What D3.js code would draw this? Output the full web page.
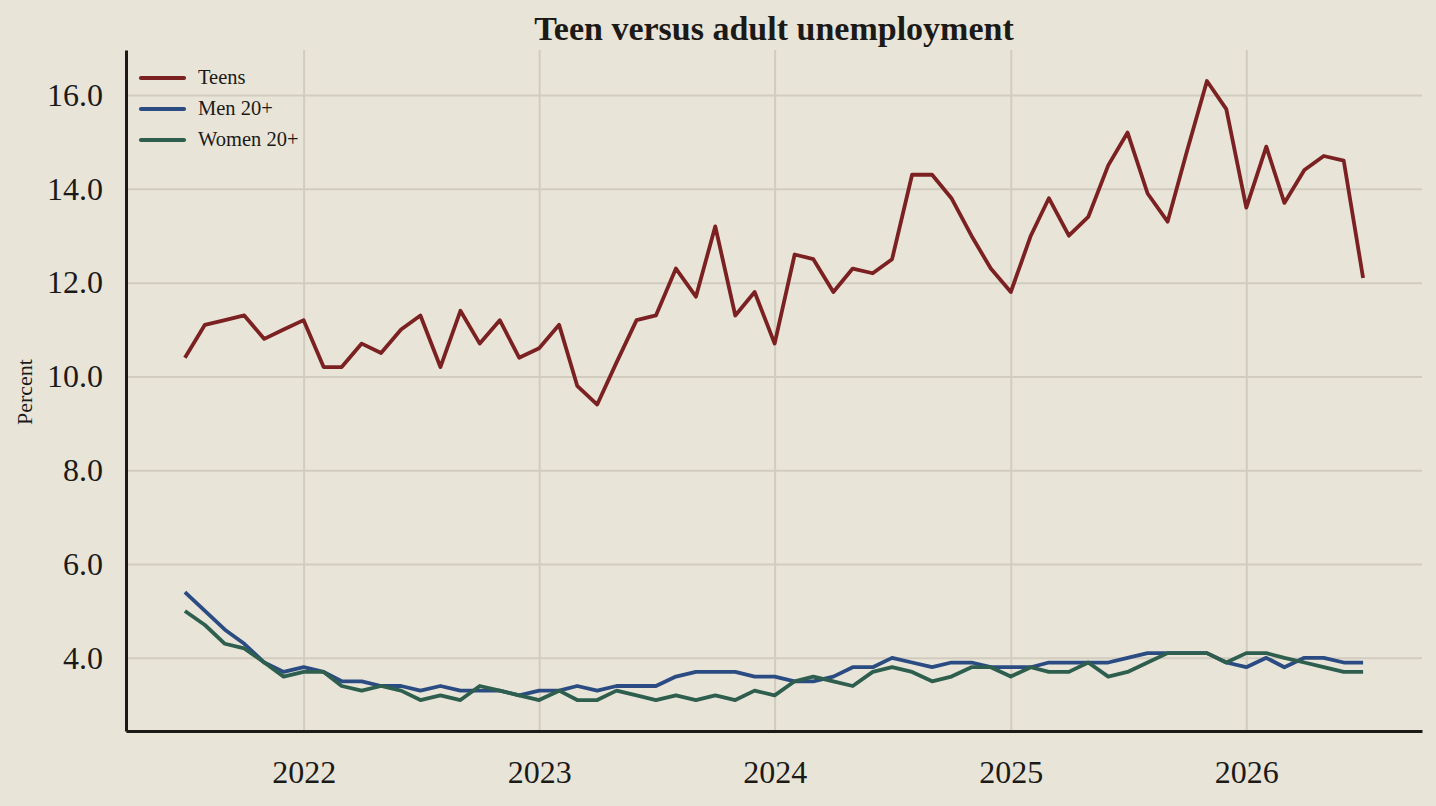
<!DOCTYPE html>
<html>
<head>
<meta charset="utf-8">
<script src="https://cdn.jsdelivr.net/npm/d3@7"></script>
<style>
  body {
    margin: 0;
    background: #e8e4d8;
  }
  svg {
    display: block;
    font-family: 'Liberation Serif', 'Times New Roman', serif;
    color: #1c1a17;
  }
  .grid line {
    stroke: #d2ccbf;
    stroke-width: 2;
  }
  .grid .domain {
    display: none;
  }
  .axis .domain {
    stroke: #1c1a17;
    stroke-width: 3;
  }
  .axis text {
    font-size: 32px;
    fill: #1c1a17;
    font-family: 'Liberation Serif', serif;
  }
  .series {
    fill: none;
    stroke-width: 3.8;
    stroke-linejoin: round;
  }
  .legend text {
    font-size: 20.5px;
    fill: #1c1a17;
  }
</style>
</head>
<body>
<svg id="chart"><g class="chart"></g></svg>
<script>
// Data
const MONTHS = [
  '2021-07', '2021-08', '2021-09', '2021-10', '2021-11', '2021-12',
  '2022-01', '2022-02', '2022-03', '2022-04', '2022-05', '2022-06',
  '2022-07', '2022-08', '2022-09', '2022-10', '2022-11', '2022-12',
  '2023-01', '2023-02', '2023-03', '2023-04', '2023-05', '2023-06',
  '2023-07', '2023-08', '2023-09', '2023-10', '2023-11', '2023-12',
  '2024-01', '2024-02', '2024-03', '2024-04', '2024-05', '2024-06',
  '2024-07', '2024-08', '2024-09', '2024-10', '2024-11', '2024-12',
  '2025-01', '2025-02', '2025-03', '2025-04', '2025-05', '2025-06',
  '2025-07', '2025-08', '2025-09', '2025-10', '2025-11', '2025-12',
  '2026-01', '2026-02', '2026-03', '2026-04', '2026-05', '2026-06',
  '2026-07',
];

const TEENS = [
  10.4, 11.1, 11.2, 11.3, 10.8, 11.0,
  11.2, 10.2, 10.2, 10.7, 10.5, 11.0, 11.3, 10.2, 11.4, 10.7, 11.2, 10.4,
  10.6, 11.1, 9.8, 9.4, 10.3, 11.2, 11.3, 12.3, 11.7, 13.2, 11.3, 11.8,
  10.7, 12.6, 12.5, 11.8, 12.3, 12.2, 12.5, 14.3, 14.3, 13.8, 13.0, 12.3,
  11.8, 13.0, 13.8, 13.0, 13.4, 14.5, 15.2, 13.9, 13.3, 14.8, 16.3, 15.7,
  13.6, 14.9, 13.7, 14.4, 14.7, 14.6, 12.1,
];

const MEN = [
  5.4, 5.0, 4.6, 4.3, 3.9, 3.7,
  3.8, 3.7, 3.5, 3.5, 3.4, 3.4, 3.3, 3.4, 3.3, 3.3, 3.3, 3.2,
  3.3, 3.3, 3.4, 3.3, 3.4, 3.4, 3.4, 3.6, 3.7, 3.7, 3.7, 3.6,
  3.6, 3.5, 3.5, 3.6, 3.8, 3.8, 4.0, 3.9, 3.8, 3.9, 3.9, 3.8,
  3.8, 3.8, 3.9, 3.9, 3.9, 3.9, 4.0, 4.1, 4.1, 4.1, 4.1, 3.9,
  3.8, 4.0, 3.8, 4.0, 4.0, 3.9, 3.9,
];

const WOMEN = [
  5.0, 4.7, 4.3, 4.2, 3.9, 3.6,
  3.7, 3.7, 3.4, 3.3, 3.4, 3.3, 3.1, 3.2, 3.1, 3.4, 3.3, 3.2,
  3.1, 3.3, 3.1, 3.1, 3.3, 3.2, 3.1, 3.2, 3.1, 3.2, 3.1, 3.3,
  3.2, 3.5, 3.6, 3.5, 3.4, 3.7, 3.8, 3.7, 3.5, 3.6, 3.8, 3.8,
  3.6, 3.8, 3.7, 3.7, 3.9, 3.6, 3.7, 3.9, 4.1, 4.1, 4.1, 3.9,
  4.1, 4.1, 4.0, 3.9, 3.8, 3.7, 3.7,
];

const SERIES_NAMES = ['Teens', 'Men 20+', 'Women 20+'];
const YEAR_TICKS = ['2022', '2023', '2024', '2025', '2026'];
const Y_TICKS = [4, 6, 8, 10, 12, 14, 16];

const colors = ['#7c2121', '#2b4c82', '#2e5e4d'];

const margin = { top: 50, right: 14, bottom: 75, left: 126 };
const width = 1436 - margin.left - margin.right;
const height = 806 - margin.top - margin.bottom;

const parseMonth = d3.timeParse('%Y-%m');
const parseYear = d3.timeParse('%Y');

//Handel Data
function handelData() {
  const allSeries = [TEENS, MEN, WOMEN];
  return allSeries.map(function (values, i) {
    return {
      name: SERIES_NAMES[i],
      color: colors[i],
      values: values.map((v, j) => ({ date: parseMonth(MONTHS[j]), value: v })),
    };
  });
}

// Scales Generators (5% padding on both axes)
function generateScales(chartData) {
  const dates = chartData[0].values.map(d => d.date);
  const [minDate, maxDate] = d3.extent(dates);
  const padX = (maxDate - minDate) * 0.05;

  const xScale = d3
    .scaleTime()
    .domain([new Date(+minDate - padX), new Date(+maxDate + padX)])
    .range([0, width]);

  const allValues = chartData.flatMap(s => s.values.map(d => d.value));
  const [minVal, maxVal] = d3.extent(allValues);
  const padY = (maxVal - minVal) * 0.05;

  const yScale = d3
    .scaleLinear()
    .domain([minVal - padY, maxVal + padY])
    .range([height, 0]);

  return [xScale, yScale];
}

// create legend
function createLegend(svg, chartData) {
  const legend = svg.append('g').attr('class', 'legend');
  let curY = 28;

  chartData.forEach(function (s) {
    legend
      .append('line')
      .attr('x1', 15)
      .attr('x2', 58)
      .attr('y1', curY)
      .attr('y2', curY)
      .attr('stroke', s.color)
      .attr('stroke-width', 4.2)
      .attr('stroke-linecap', 'round');

    legend
      .append('text')
      .attr('x', 72)
      .attr('y', curY + 6)
      .text(s.name);

    curY += 31;
  });
}

//Present Chart
function showChart() {
  const chartData = handelData();
  const [xScale, yScale] = generateScales(chartData);

  const svg = d3
    .select('#chart')
    .attr('width', width + margin.left + margin.right)
    .attr('height', height + margin.top + margin.bottom)
    .select('g.chart')
    .attr('transform', 'translate(' + margin.left + ',' + margin.top + ')');

  const yearDates = YEAR_TICKS.map(y => parseYear(y));

  //Draw Grid
  svg
    .append('g')
    .attr('class', 'grid')
    .attr('transform', 'translate(0,' + height + ')')
    .call(
      d3.axisBottom(xScale).tickValues(yearDates).tickSize(-height).tickFormat('')
    );

  svg
    .append('g')
    .attr('class', 'grid')
    .call(d3.axisLeft(yScale).tickValues(Y_TICKS).tickSize(-width).tickFormat(''));

  //Draw Lines
  const line = d3
    .line()
    .x(d => xScale(d.date))
    .y(d => yScale(d.value));

  svg
    .append('g')
    .selectAll('path')
    .data(chartData)
    .enter()
    .append('path')
    .attr('class', 'series')
    .attr('stroke', d => d.color)
    .attr('d', d => line(d.values));

  //Draw Axis
  svg
    .append('g')
    .attr('class', 'axis')
    .attr('transform', 'translate(0,' + height + ')')
    .call(
      d3
        .axisBottom(xScale)
        .tickValues(yearDates)
        .tickFormat(d3.timeFormat('%Y'))
        .tickSize(0)
        .tickPadding(29)
    );

  svg
    .append('g')
    .attr('class', 'axis')
    .call(
      d3
        .axisLeft(yScale)
        .tickValues(Y_TICKS)
        .tickFormat(d3.format('.1f'))
        .tickSize(0)
        .tickPadding(23)
    );

  // Labels
  d3.select('#chart')
    .append('text')
    .attr('x', margin.left + width / 2)
    .attr('y', 40)
    .attr('text-anchor', 'middle')
    .attr('font-weight', 'bold')
    .attr('font-size', 34)
    .attr('fill', '#1c1a17')
    .text('Teen versus adult unemployment');

  d3.select('#chart')
    .append('text')
    .attr('transform', 'translate(32, 392) rotate(-90)')
    .attr('text-anchor', 'middle')
    .attr('font-size', 22)
    .attr('fill', '#1c1a17')
    .text('Percent');

  createLegend(svg, chartData);
}

showChart();
</script>
</body>
</html>
